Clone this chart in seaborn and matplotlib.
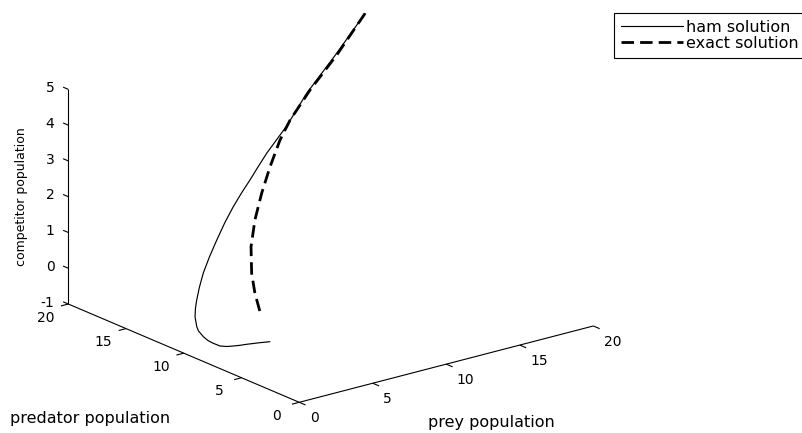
import matplotlib
matplotlib.use("Agg")
import matplotlib.pyplot as plt
import seaborn as sns
from mpl_toolkits.mplot3d import proj3d

# ---------------- data ----------------
prey_ham = [12.33, 10.56, 8.67, 7.47, 6.27, 5.76, 5.29, 4.80, 4.31, 3.81,
            3.34, 2.92, 2.58, 2.39, 2.27, 2.21, 2.14, 2.11, 1.97, 1.75,
            1.69, 1.73, 1.85, 2.12, 2.48, 2.84, 3.22, 3.56, 3.94, 4.42]
pred_ham = [10.0, 10.2, 10.4, 10.6, 10.8, 10.9, 11.0, 11.1, 11.2, 11.3,
            11.4, 11.5, 11.6, 11.7, 11.77, 11.80, 11.75, 11.56, 11.23, 10.53,
            10.06, 9.65, 9.22, 8.98, 8.87, 8.74, 8.65, 8.54, 8.42, 8.17]
comp_ham = [7.18, 6.23, 5.28, 4.47, 3.81, 3.47, 3.14, 2.82, 2.47, 2.06,
            1.61, 1.17, 0.74, 0.34, 0.0, -0.22, -0.45, -0.70, -0.76, -0.80,
            -0.835, -0.86, -0.89, -0.90, -0.91, -0.91, -0.91, -0.91, -0.91, -0.90]

prey_exact = [12.33, 10.56, 8.90, 7.70, 7.17, 6.65, 6.24, 5.94, 5.83, 6.03, 6.41, 6.91]
pred_exact = [10.0, 10.2, 10.4, 10.6, 10.8, 11.0, 11.2, 11.4, 11.6, 11.8, 12.0, 12.2]
comp_exact = [7.18, 6.18, 5.35, 4.61, 4.08, 3.36, 2.64, 1.90, 1.13, 0.34, -0.285, -0.88]

prey_ticks = [0, 5, 10, 15, 20]
pred_ticks = [0, 5, 10, 15, 20]
comp_ticks = [-1, 0, 1, 2, 3, 4, 5]
prey_lim = (0, 20)
pred_lim = (0, 20)
comp_lim = (-1, 5)

series_labels = ["ham solution", "exact solution"]
prey_title = "prey population"
pred_title = "predator population"
comp_title = "competitor population"

# ---------------- style ----------------
sns.set_theme(style="white")
plt.rcParams['font.family'] = ['DejaVu Sans']
plt.rcParams['text.color'] = 'black'

W, H = 802, 433
fig = plt.figure(figsize=(W / 100, H / 100), dpi=100)
fig.patch.set_facecolor('white')

# square 3D axes region (pixels)
S = 559.2
left_px, top_px = 43.65, -64.38
ax = fig.add_axes([left_px / W, 1 - (top_px + S) / H, S / W, S / H], projection='3d')
ax.set_proj_type('ortho')
ax.view_init(elev=19.41, azim=-127.99)
ax.set_box_aspect((373.1, 375.2, 227.6), zoom=1)
ax.set_xlim(*prey_lim)
ax.set_ylim(*pred_lim)
ax.set_zlim(*comp_lim)
ax.set_xticks([])
ax.set_yticks([])
ax.set_zticks([])
ax.set_axis_off()
ax.patch.set_alpha(0)

M = ax.get_proj()


def label3d(x, y, z, s, **kw):
    # place a 2D text at the library's projection of a 3D point
    px, py, _ = proj3d.proj_transform(x, y, z, M)
    ax.text2D(px, py, s, transform=ax.transData, color='black', **kw)


axc = dict(color='black', lw=0.8, solid_capstyle='butt')
x0, x1 = prey_lim
y0, y1 = pred_lim
z0, z1 = comp_lim
# axis lines (MATLAB style: floor edges + vertical at far-left corner)
ax.plot([x0, x1], [y0, y0], [z0, z0], **axc)
ax.plot([x0, x0], [y0, y1], [z0, z0], **axc)
ax.plot([x0, x0], [y1, y1], [z0, z1], **axc)

tick_fs = 10
for t in prey_ticks:
    ax.plot([t, t], [y0, y0 - 0.55], [z0, z0], **axc)
    label3d(t, y0 - 0.909, z0 - 0.431, str(t), ha='left', va='baseline',
            fontsize=tick_fs)
for t in pred_ticks:
    ax.plot([x0, x0 - 0.5], [t, t], [z0, z0], **axc)
    label3d(x0 - 1.531, t, z0 - 0.329, str(t), ha='center', va='baseline',
            fontsize=tick_fs)
for t in comp_ticks:
    ax.plot([x0, x0], [y1, y1 + 0.45], [t, t], **axc)
    label3d(x0, y1 + 1.195, t - 0.242, str(t), ha='right', va='baseline',
            fontsize=tick_fs)

# curves
h1, = ax.plot(prey_ham, pred_ham, comp_ham, color='black', lw=0.85,
              label=series_labels[0])
h2, = ax.plot(prey_exact, pred_exact, comp_exact, color='black', lw=2.0,
              linestyle=(0, (4.5, 2.2)), label=series_labels[1])

# axis titles
fig.text(491 / W, 1 - 423 / H, prey_title, ha='center', va='center',
         fontsize=11.5, color='black')
fig.text(170 / W, 1 - 419 / H, pred_title, ha='right', va='center',
         fontsize=11.5, color='black')
fig.text(22 / W, 1 - 196.5 / H, comp_title, ha='center', va='center',
         rotation=90, fontsize=9, color='black')

leg = fig.legend([h1, h2], series_labels, loc='upper left',
                 bbox_to_anchor=(614.3 / W, 1 - 12.7 / H), borderaxespad=0,
                 fontsize=11.5, frameon=True, fancybox=False, edgecolor='black',
                 framealpha=1, borderpad=0.45, handlelength=3.86,
                 handletextpad=0.21, labelspacing=0.05, labelcolor='black')
leg.get_frame().set_linewidth(0.8)

fig.savefig('out.png', dpi=100, facecolor='white')
